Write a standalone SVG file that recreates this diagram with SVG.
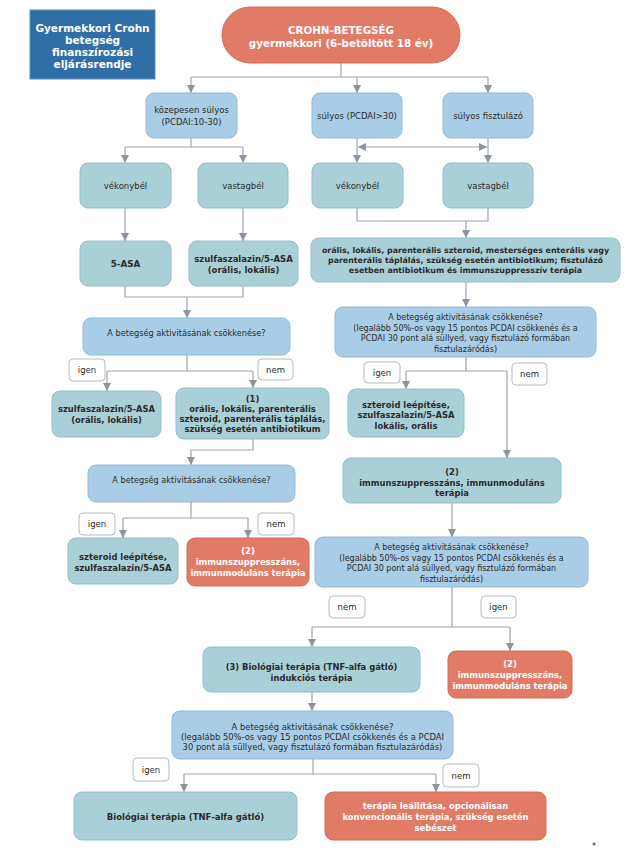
<svg xmlns="http://www.w3.org/2000/svg" width="642" height="851" viewBox="0 0 642 851">
<defs>
<style>
.lb{fill:#a9cde6;stroke:#92b9d6;stroke-width:1}
.tl{fill:#a9d0d6;stroke:#93bec5;stroke-width:1}
.or{fill:#e27b66;stroke:#d06c59;stroke-width:1}
.lab{fill:#ffffff;stroke:#b3bbc4;stroke-width:1}
.ti{fill:#2f6fa6;stroke:#5a8dbb;stroke-width:1}
text{font-family:"DejaVu Sans",Verdana,sans-serif;font-size:8px;fill:#2b2b2b;text-anchor:middle}
.b{font-weight:bold;font-size:8.4px}
.w{fill:#ffffff}
.s{font-size:8.5px}
.l{font-size:8.5px}
.c{fill:none;stroke:#9ea5ae;stroke-width:1.2}
</style>
<marker id="ah" viewBox="0 0 8 8" refX="8" refY="4" markerWidth="8" markerHeight="8" markerUnits="userSpaceOnUse" orient="auto-start-reverse">
<path d="M0,0 L8,4 L0,8 z" fill="#8c94a1"/>
</marker>
</defs>
<rect width="642" height="851" fill="#ffffff"/>

<g id="connectors">
<path class="c" d="M341,63 V77 M191,77 H488"/>
<path class="c" marker-end="url(#ah)" d="M191,77 V93"/>
<path class="c" marker-end="url(#ah)" d="M357,77 V93"/>
<path class="c" marker-end="url(#ah)" d="M488,77 V93"/>
<path class="c" d="M191,138 V147 M125,147 H243"/>
<path class="c" marker-end="url(#ah)" d="M125,147 V163"/>
<path class="c" marker-end="url(#ah)" d="M243,147 V163"/>
<path class="c" marker-end="url(#ah)" d="M357,138 V163"/>
<path class="c" marker-end="url(#ah)" d="M488,138 V163"/>
<path class="c" marker-start="url(#ah)" marker-end="url(#ah)" d="M358,147 H487"/>
<path class="c" marker-end="url(#ah)" d="M125,208 V241"/>
<path class="c" marker-end="url(#ah)" d="M243,208 V241"/>
<path class="c" d="M357,208 V221 H488 V208"/>
<path class="c" marker-end="url(#ah)" d="M466,221 V238"/>
<path class="c" d="M125,286 V297 H243 V286"/>
<path class="c" marker-end="url(#ah)" d="M187,297 V318"/>
<path class="c" marker-end="url(#ah)" d="M466,282 V307"/>
<path class="c" d="M187,355 V371 M107,371 H253"/>
<path class="c" marker-end="url(#ah)" d="M107,371 V391"/>
<path class="c" marker-end="url(#ah)" d="M253,371 V388"/>
<path class="c" d="M466,357 V371 M406,371 H507"/>
<path class="c" marker-end="url(#ah)" d="M406,371 V389"/>
<path class="c" marker-end="url(#ah)" d="M507,371 V458"/>
<path class="c" marker-end="url(#ah)" d="M253,439 V450 H191 V465"/>
<path class="c" d="M191,502 V518 M123,518 H248"/>
<path class="c" marker-end="url(#ah)" d="M123,518 V538"/>
<path class="c" marker-end="url(#ah)" d="M248,518 V538"/>
<path class="c" marker-end="url(#ah)" d="M452,503 V537"/>
<path class="c" d="M452,587 V627 M312,627 H510"/>
<path class="c" marker-end="url(#ah)" d="M312,627 V647"/>
<path class="c" marker-end="url(#ah)" d="M510,627 V651"/>
<path class="c" marker-end="url(#ah)" d="M312,692 V711"/>
<path class="c" d="M313,759 V774 M184,774 H436"/>
<path class="c" marker-end="url(#ah)" d="M184,774 V792"/>
<path class="c" marker-end="url(#ah)" d="M436,774 V792"/>
</g>

<g id="title">
<rect class="ti" x="30" y="10" width="125" height="69"/>
<text class="b w" x="92.5" y="31.5" style="font-size:10.5px">Gyermekkori Crohn</text>
<text class="b w" x="92.5" y="43.8" style="font-size:10.5px">betegség</text>
<text class="b w" x="92.5" y="56.1" style="font-size:10.5px">finanszírozási</text>
<text class="b w" x="92.5" y="68.4" style="font-size:10.5px">eljárásrendje</text>
</g>

<g id="n-top">
<rect class="or" x="222" y="7" width="238" height="56" rx="28"/>
<text class="b w" x="341" y="34" style="font-size:10.3px">CROHN-BETEGSÉG</text>
<text class="b w" x="341" y="47" style="font-size:10.3px">gyermekkori (6-betöltött 18 év)</text>
</g>

<g id="n-kozepes">
<rect class="lb" x="146" y="93" width="91" height="45" rx="8"/>
<text class="s" x="191.5" y="113">közepesen súlyos</text>
<text class="s" x="191.5" y="125">(PCDAI:10-30)</text>
</g>
<g id="n-sulyos">
<rect class="lb" x="312" y="93" width="90" height="45" rx="8"/>
<text class="s" x="357" y="119">súlyos (PCDAI&gt;30)</text>
</g>
<g id="n-fisztulazo">
<rect class="lb" x="443" y="93" width="90" height="45" rx="8"/>
<text class="s" x="488" y="119">súlyos fisztulázó</text>
</g>

<g id="n-l-vekony">
<rect class="tl" x="80" y="163" width="91" height="45" rx="8"/>
<text class="s" x="125.5" y="189">vékonybél</text>
</g>
<g id="n-l-vastag">
<rect class="tl" x="198" y="163" width="90" height="45" rx="8"/>
<text class="s" x="243" y="189">vastagbél</text>
</g>
<g id="n-r-vekony">
<rect class="tl" x="312" y="163" width="91" height="45" rx="8"/>
<text class="s" x="357.5" y="189">vékonybél</text>
</g>
<g id="n-r-vastag">
<rect class="tl" x="443" y="163" width="90" height="45" rx="8"/>
<text class="s" x="488" y="189">vastagbél</text>
</g>

<g id="n-5asa">
<rect class="tl" x="80" y="241" width="91" height="45" rx="8"/>
<text class="b" x="125.5" y="266.5" style="font-size:8.7px">5-ASA</text>
</g>
<g id="n-szulfa">
<rect class="tl" x="189" y="241" width="109" height="45" rx="8"/>
<text class="b" x="243.5" y="261.5" style="font-size:8.5px">szulfaszalazin/5-ASA</text>
<text class="b" x="243.5" y="272.5" style="font-size:8.5px">(orális, lokális)</text>
</g>
<g id="n-big">
<rect class="tl" x="311" y="238" width="309" height="44" rx="8"/>
<text class="b" x="465.5" y="253" style="font-size:7.9px">orális, lokális, parenterális szteroid, mesterséges enterális vagy</text>
<text class="b" x="465.5" y="263" style="font-size:7.9px">parenterális táplálás, szükség esetén antibiotikum; fisztulázó</text>
<text class="b" x="465.5" y="273" style="font-size:7.9px">esetben antibiotikum és immunszuppresszív terápia</text>
</g>

<g id="n-lq1">
<rect class="lb" x="83" y="318" width="207" height="37" rx="8"/>
<text x="186.5" y="336" style="font-size:8.2px">A betegség aktivitásának csökkenése?</text>
</g>
<g id="n-rq1">
<rect class="lb" x="335" y="307" width="261" height="50" rx="8"/>
<text x="465.5" y="320">A betegség aktivitásának csökkenése?</text>
<text x="465.5" y="330.5">(legalább 50%-os vagy 15 pontos PCDAI csökkenés és a</text>
<text x="465.5" y="341">PCDAI 30 pont alá süllyed, vagy fisztulázó formában</text>
<text x="465.5" y="351.5">fisztulazáródás)</text>
</g>

<g id="lbl-l1-igen"><rect class="lab" x="69" y="359" width="36" height="22" rx="4"/><text class="l" x="87" y="373">igen</text></g>
<g id="lbl-l1-nem"><rect class="lab" x="258" y="359" width="35" height="21" rx="4"/><text class="l" x="275.5" y="372.5">nem</text></g>
<g id="lbl-r1-igen"><rect class="lab" x="364" y="362" width="36" height="21" rx="4"/><text class="l" x="382" y="375.5">igen</text></g>
<g id="lbl-r1-nem"><rect class="lab" x="512" y="363" width="35" height="22" rx="4"/><text class="l" x="529.5" y="377">nem</text></g>

<g id="n-l-yes1">
<rect class="tl" x="52" y="391" width="109" height="46" rx="8"/>
<text class="b" x="106.5" y="412">szulfaszalazin/5-ASA</text>
<text class="b" x="106.5" y="422.5">(orális, lokális)</text>
</g>
<g id="n-1">
<rect class="tl" x="176" y="388" width="153" height="51" rx="8"/>
<text class="b" x="252.5" y="402">(1)</text>
<text class="b" x="252.5" y="412">orális, lokális, parenterális</text>
<text class="b" x="252.5" y="422">szteroid, parenterális táplálás,</text>
<text class="b" x="252.5" y="432">szükség esetén antibiotikum</text>
</g>
<g id="n-r-yes1">
<rect class="tl" x="348" y="389" width="116" height="48" rx="8"/>
<text class="b" x="406" y="407.5">szteroid leépítése,</text>
<text class="b" x="406" y="418">szulfaszalazin/5-ASA</text>
<text class="b" x="406" y="428.5">lokális, orális</text>
</g>

<g id="n-r-2">
<rect class="tl" x="343" y="458" width="218" height="45" rx="8"/>
<text class="b" x="452" y="475">(2)</text>
<text class="b" x="452" y="485.5">immunszuppresszáns, immunmoduláns</text>
<text class="b" x="452" y="496">terápia</text>
</g>

<g id="n-lq2">
<rect class="lb" x="88" y="465" width="207" height="37" rx="8"/>
<text x="191.5" y="482.5" style="font-size:8.2px">A betegség aktivitásának csökkenése?</text>
</g>
<g id="lbl-l2-igen"><rect class="lab" x="79" y="513" width="36" height="22" rx="4"/><text class="l" x="97" y="527">igen</text></g>
<g id="lbl-l2-nem"><rect class="lab" x="258" y="513" width="36" height="22" rx="4"/><text class="l" x="276" y="527">nem</text></g>

<g id="n-l-yes2">
<rect class="tl" x="68" y="538" width="110" height="46" rx="8"/>
<text class="b" x="123" y="560">szteroid leépítése,</text>
<text class="b" x="123" y="571">szulfaszalazin/5-ASA</text>
</g>
<g id="n-l-no2">
<rect class="or" x="187" y="538" width="122" height="48" rx="8"/>
<text class="b w" x="248" y="554">(2)</text>
<text class="b w" x="248" y="565">immunszuppresszáns,</text>
<text class="b w" x="248" y="575.5">immunmoduláns terápia</text>
</g>

<g id="n-rq2">
<rect class="lb" x="315" y="537" width="273" height="50" rx="8"/>
<text x="451.5" y="550">A betegség aktivitásának csökkenése?</text>
<text x="451.5" y="560.5">(legalább 50%-os vagy 15 pontos PCDAI csökkenés és a</text>
<text x="451.5" y="571">PCDAI 30 pont alá süllyed, vagy fisztulázó formában</text>
<text x="451.5" y="581.5">fisztulazáródás)</text>
</g>
<g id="lbl-r2-nem"><rect class="lab" x="329" y="596" width="36" height="22" rx="4"/><text class="l" x="347" y="610">nem</text></g>
<g id="lbl-r2-igen"><rect class="lab" x="481" y="596" width="35" height="22" rx="4"/><text class="l" x="498.5" y="610">igen</text></g>

<g id="n-3">
<rect class="tl" x="203" y="647" width="217" height="45" rx="8"/>
<text class="b" x="311.5" y="670">(3) Biológiai terápia (TNF-alfa gátló)</text>
<text class="b" x="311.5" y="680.5">indukciós terápia</text>
</g>
<g id="n-r-or2">
<rect class="or" x="448" y="651" width="124" height="47" rx="8"/>
<text class="b w" x="510" y="667">(2)</text>
<text class="b w" x="510" y="678">immunszuppresszáns,</text>
<text class="b w" x="510" y="689">immunmoduláns terápia</text>
</g>

<g id="n-bq">
<rect class="lb" x="172" y="711" width="281" height="48" rx="8"/>
<text x="312.5" y="730" style="font-size:8.4px">A betegség aktivitásának csökkenése?</text>
<text x="312.5" y="740" style="font-size:8.4px">(legalább 50%-os vagy 15 pontos PCDAI csökkenés és a PCDAI</text>
<text x="312.5" y="750" style="font-size:8.4px">30 pont alá süllyed, vagy fisztulázó formában fisztulazáródás)</text>
</g>
<g id="lbl-b-igen"><rect class="lab" x="133" y="758" width="36" height="23" rx="4"/><text class="l" x="151" y="772.5">igen</text></g>
<g id="lbl-b-nem"><rect class="lab" x="443" y="764" width="36" height="23" rx="4"/><text class="l" x="461" y="778.5">nem</text></g>

<g id="n-biol">
<rect class="tl" x="74" y="792" width="223" height="48" rx="8"/>
<text class="b" x="185.5" y="819.5" style="font-size:8.5px">Biológiai terápia (TNF-alfa gátló)</text>
</g>
<g id="n-stop">
<rect class="or" x="325" y="792" width="221" height="48" rx="8"/>
<text class="b w" x="435.5" y="809">terápia leállítása, opcionálisan</text>
<text class="b w" x="435.5" y="820">konvencionális terápia, szükség esetén</text>
<text class="b w" x="435.5" y="831">sebészet</text>
</g>

<text x="594" y="849" font-size="5" fill="#555">*</text>
</svg>
